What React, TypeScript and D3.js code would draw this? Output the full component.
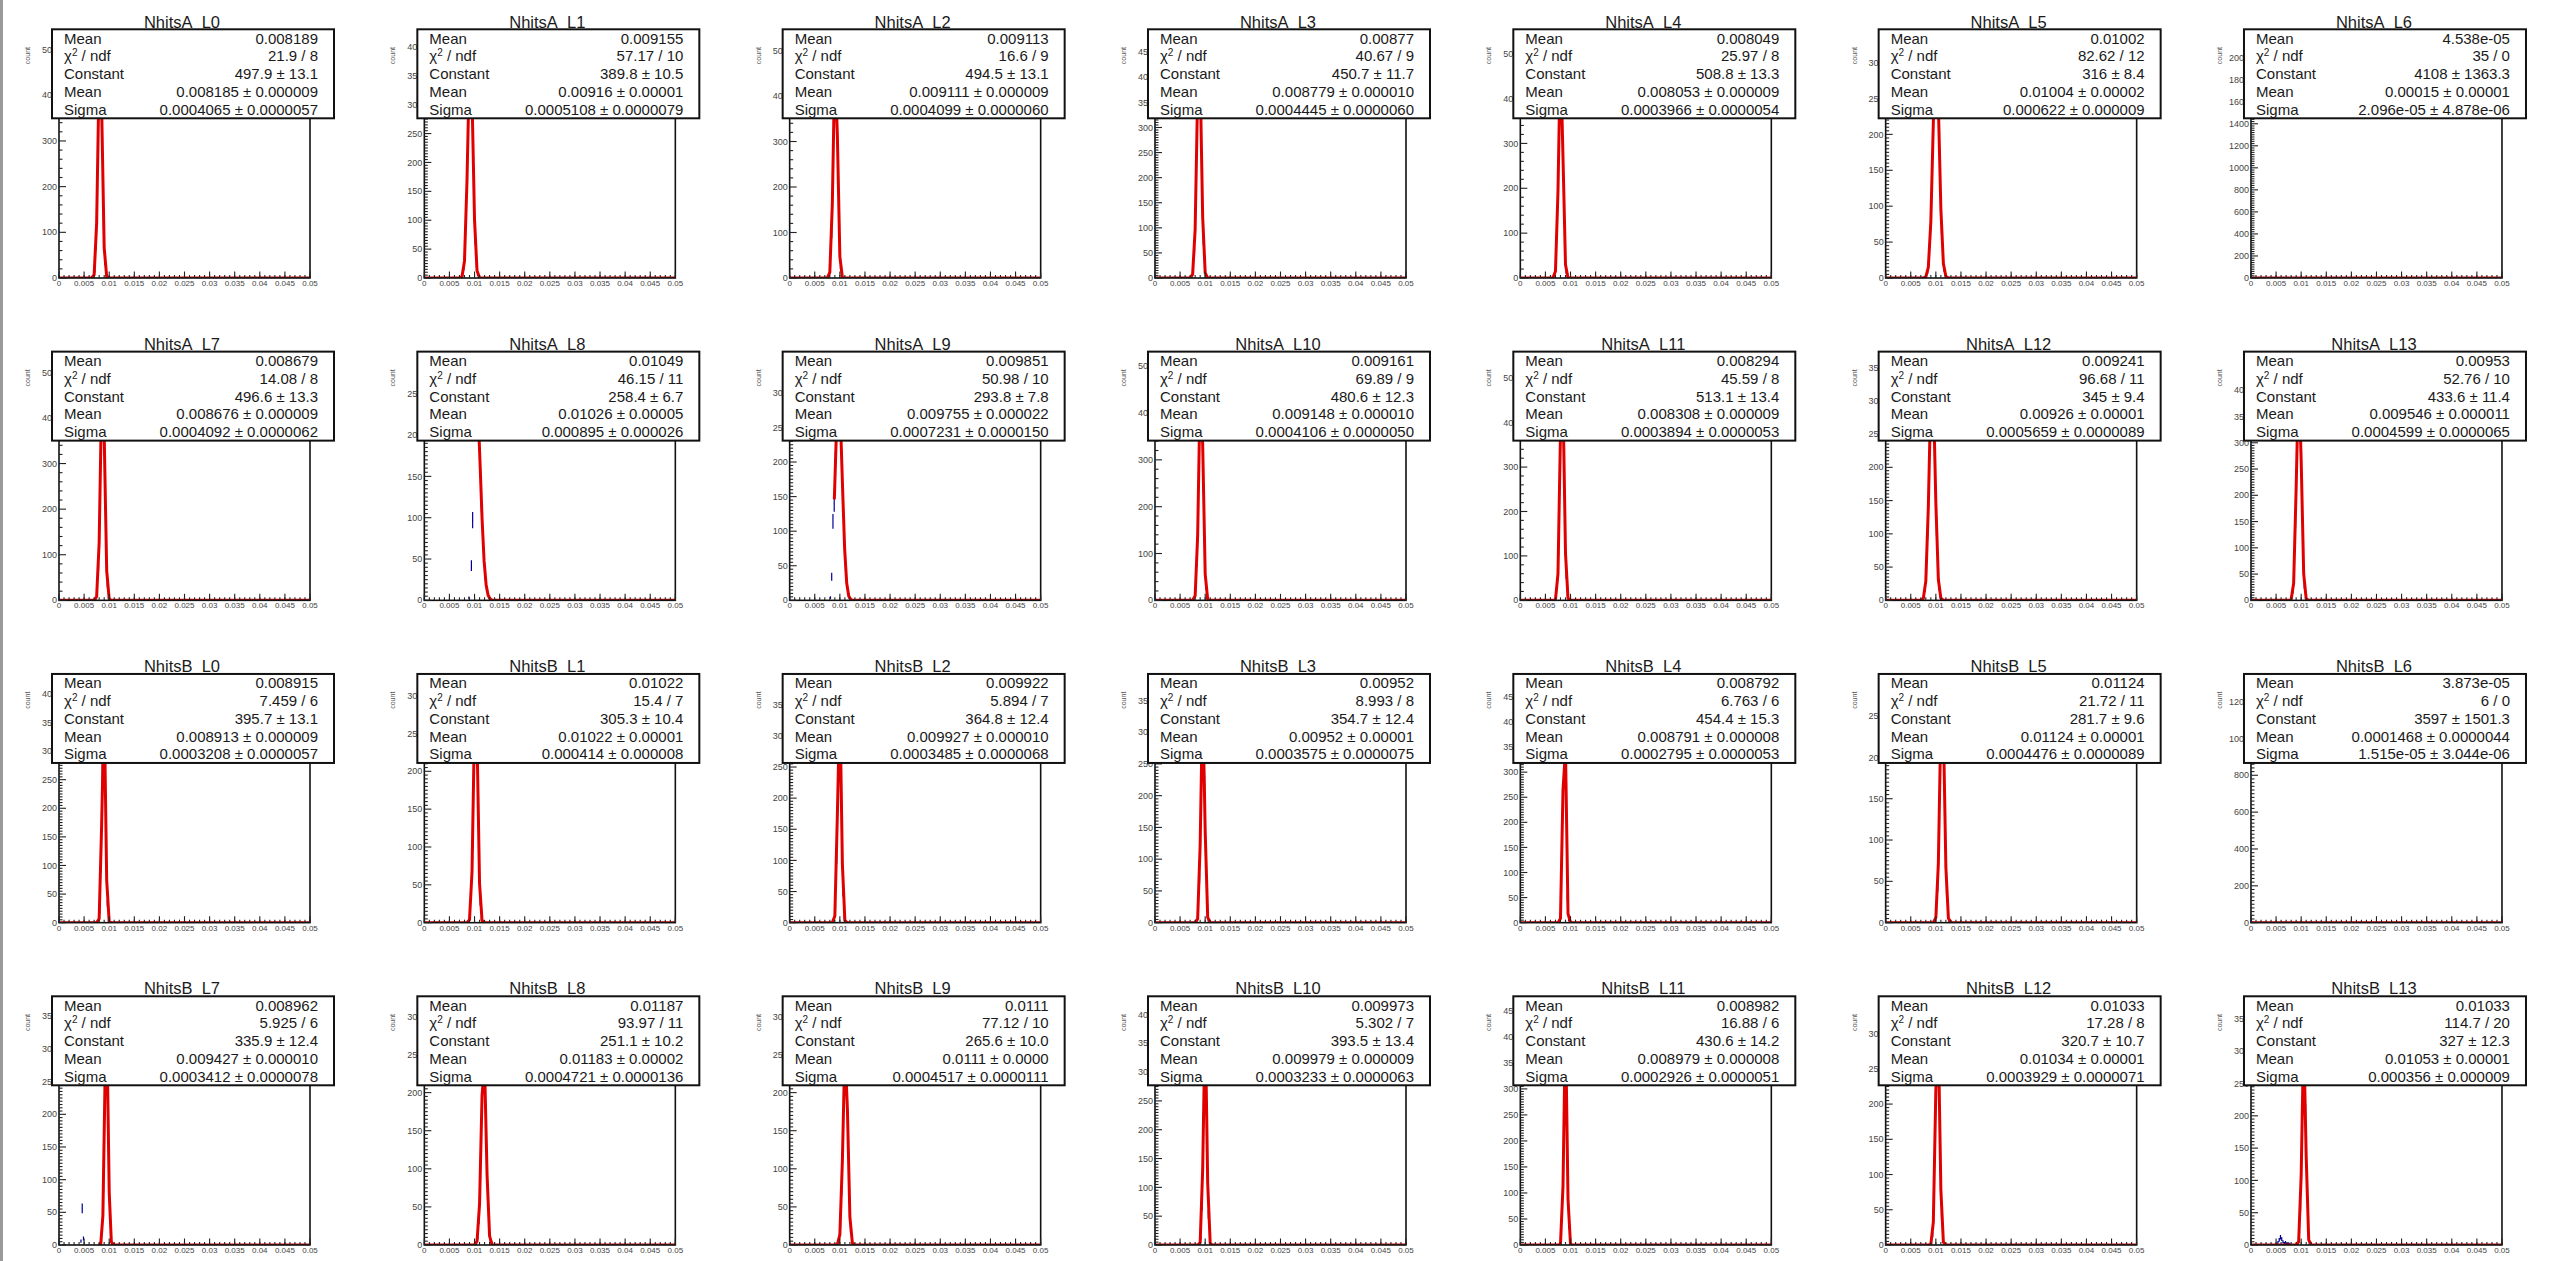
import React from "react";
import * as d3 from "d3";

// ---------------- DATA ----------------
const panelNames = [
  "NhitsA_L0", "NhitsA_L1", "NhitsA_L2", "NhitsA_L3", "NhitsA_L4", "NhitsA_L5", "NhitsA_L6",
  "NhitsA_L7", "NhitsA_L8", "NhitsA_L9", "NhitsA_L10", "NhitsA_L11", "NhitsA_L12", "NhitsA_L13",
  "NhitsB_L0", "NhitsB_L1", "NhitsB_L2", "NhitsB_L3", "NhitsB_L4", "NhitsB_L5", "NhitsB_L6",
  "NhitsB_L7", "NhitsB_L8", "NhitsB_L9", "NhitsB_L10", "NhitsB_L11", "NhitsB_L12", "NhitsB_L13",
];

const statMean = [
  "0.008189", "0.009155", "0.009113", "0.00877", "0.008049", "0.01002", "4.538e-05",
  "0.008679", "0.01049", "0.009851", "0.009161", "0.008294", "0.009241", "0.00953",
  "0.008915", "0.01022", "0.009922", "0.00952", "0.008792", "0.01124", "3.873e-05",
  "0.008962", "0.01187", "0.0111", "0.009973", "0.008982", "0.01033", "0.01033",
];
const statChi2 = [
  "21.9 / 8", "57.17 / 10", "16.6 / 9", "40.67 / 9", "25.97 / 8", "82.62 / 12", "35 / 0",
  "14.08 / 8", "46.15 / 11", "50.98 / 10", "69.89 / 9", "45.59 / 8", "96.68 / 11", "52.76 / 10",
  "7.459 / 6", "15.4 / 7", "5.894 / 7", "8.993 / 8", "6.763 / 6", "21.72 / 11", "6 / 0",
  "5.925 / 6", "93.97 / 11", "77.12 / 10", "5.302 / 7", "16.88 / 6", "17.28 / 8", "114.7 / 20",
];
const statConst = [
  "497.9 ± 13.1", "389.8 ± 10.5", "494.5 ± 13.1", "450.7 ± 11.7", "508.8 ± 13.3", "316 ± 8.4", "4108 ± 1363.3",
  "496.6 ± 13.3", "258.4 ± 6.7", "293.8 ± 7.8", "480.6 ± 12.3", "513.1 ± 13.4", "345 ± 9.4", "433.6 ± 11.4",
  "395.7 ± 13.1", "305.3 ± 10.4", "364.8 ± 12.4", "354.7 ± 12.4", "454.4 ± 15.3", "281.7 ± 9.6", "3597 ± 1501.3",
  "335.9 ± 12.4", "251.1 ± 10.2", "265.6 ± 10.0", "393.5 ± 13.4", "430.6 ± 14.2", "320.7 ± 10.7", "327 ± 12.3",
];
const statFitMean = [
  "0.008185 ± 0.000009", "0.00916 ± 0.00001", "0.009111 ± 0.000009", "0.008779 ± 0.000010", "0.008053 ± 0.000009", "0.01004 ± 0.00002", "0.00015 ± 0.00001",
  "0.008676 ± 0.000009", "0.01026 ± 0.00005", "0.009755 ± 0.000022", "0.009148 ± 0.000010", "0.008308 ± 0.000009", "0.00926 ± 0.00001", "0.009546 ± 0.000011",
  "0.008913 ± 0.000009", "0.01022 ± 0.00001", "0.009927 ± 0.000010", "0.00952 ± 0.00001", "0.008791 ± 0.000008", "0.01124 ± 0.00001", "0.0001468 ± 0.0000044",
  "0.009427 ± 0.000010", "0.01183 ± 0.00002", "0.0111 ± 0.0000", "0.009979 ± 0.000009", "0.008979 ± 0.000008", "0.01034 ± 0.00001", "0.01053 ± 0.00001",
];
const statSigma = [
  "0.0004065 ± 0.0000057", "0.0005108 ± 0.0000079", "0.0004099 ± 0.0000060", "0.0004445 ± 0.0000060", "0.0003966 ± 0.0000054", "0.000622 ± 0.000009", "2.096e-05 ± 4.878e-06",
  "0.0004092 ± 0.0000062", "0.000895 ± 0.000026", "0.0007231 ± 0.0000150", "0.0004106 ± 0.0000050", "0.0003894 ± 0.0000053", "0.0005659 ± 0.0000089", "0.0004599 ± 0.0000065",
  "0.0003208 ± 0.0000057", "0.000414 ± 0.000008", "0.0003485 ± 0.0000068", "0.0003575 ± 0.0000075", "0.0002795 ± 0.0000053", "0.0004476 ± 0.0000089", "1.515e-05 ± 3.044e-06",
  "0.0003412 ± 0.0000078", "0.0004721 ± 0.0000136", "0.0004517 ± 0.0000111", "0.0003233 ± 0.0000063", "0.0002926 ± 0.0000051", "0.0003929 ± 0.0000071", "0.000356 ± 0.000009",
];

// Gaussian fit parameters (from the stat boxes)
const fitConst = [
  497.9, 389.8, 494.5, 450.7, 508.8, 316, 4108,
  496.6, 258.4, 293.8, 480.6, 513.1, 345, 433.6,
  395.7, 305.3, 364.8, 354.7, 454.4, 281.7, 3597,
  335.9, 251.1, 265.6, 393.5, 430.6, 320.7, 327,
];
const fitMean = [
  0.008185, 0.00916, 0.009111, 0.008779, 0.008053, 0.01004, 0.00015,
  0.008676, 0.01026, 0.009755, 0.009148, 0.008308, 0.00926, 0.009546,
  0.008913, 0.01022, 0.009927, 0.00952, 0.008791, 0.01124, 0.0001468,
  0.009427, 0.01183, 0.0111, 0.009979, 0.008979, 0.01034, 0.01053,
];
const fitSigma = [
  0.0004065, 0.0005108, 0.0004099, 0.0004445, 0.0003966, 0.000622, 2.096e-5,
  0.0004092, 0.000895, 0.0007231, 0.0004106, 0.0003894, 0.0005659, 0.0004599,
  0.0003208, 0.000414, 0.0003485, 0.0003575, 0.0002795, 0.0004476, 1.515e-5,
  0.0003412, 0.0004721, 0.0004517, 0.0003233, 0.0002926, 0.0003929, 0.000356,
];
// lower end of the fit range (upper end is the axis end, 0.05)
const fitLo = [
  0, 0, 0, 0, 0, 0, 0,
  0, 0.0099, 0.0089, 0, 0, 0, 0,
  0, 0, 0, 0, 0, 0, 0,
  0.0079, 0, 0, 0, 0, 0, 0,
];

// histogram contents (bin width 0.00025), first listed bin lower edge in histStart
const BIN_W = 0.00025;
const histStart = [
  0.00675, 0.0075, 0.0075, 0.00725, 0.0065, 0.008, 0,
  0.00725, 0.00875, 0.00775, 0.00775, 0.00675, 0.0075, 0.00775,
  0.00775, 0.00875, 0.00875, 0.00825, 0.00775, 0.00975, 0,
  0.00825, 0.01025, 0.0095, 0.00875, 0.008, 0.009, 0.00925,
];
const histBins: number[][] = [
  [3, 16, 69, 192, 373, 492, 446, 278, 118, 34, 7, 1],
  [4, 17, 50, 119, 225, 334, 389, 357, 258, 146, 65, 23, 6, 1],
  [1, 5, 28, 98, 244, 418, 494, 403, 226, 88, 23, 4, 1],
  [3, 16, 57, 153, 298, 424, 448, 333, 184, 74, 22, 5, 1],
  [1, 6, 33, 119, 284, 460, 501, 366, 181, 60, 13, 2],
  [3, 9, 24, 55, 107, 178, 252, 305, 313, 273, 203, 129, 70, 31, 12, 4, 1],
  [2040, 3, 1],
  [3, 18, 73, 200, 378, 493, 440, 271, 115, 34, 7, 1],
  [3, 0, 42, 97, 215, 236, 272, 246, 204, 161, 118, 80, 51, 30, 16, 8, 4, 2],
  [0, 4, 34, 114, 140, 201, 256, 289, 325, 258, 203, 143, 88, 49, 24, 10, 4],
  [4, 22, 82, 214, 386, 480, 413, 245, 100, 28, 5, 1],
  [1, 5, 29, 109, 277, 459, 506, 369, 177, 56, 12, 2],
  [5, 17, 46, 102, 184, 274, 335, 338, 281, 190, 107, 50, 19, 6, 1],
  [1, 4, 17, 59, 150, 284, 405, 428, 335, 196, 86, 27, 7, 1],
  [2, 20, 97, 264, 393, 318, 140, 34, 4],
  [2, 9, 38, 108, 216, 297, 285, 189, 88, 28, 6, 1],
  [4, 26, 105, 250, 361, 310, 161, 49, 9, 1],
  [2, 16, 70, 194, 326, 354, 217, 85, 20, 3],
  [2, 27, 150, 382, 448, 224, 51, 5],
  [3, 13, 44, 110, 203, 272, 269, 195, 103, 40, 12, 2],
  [1220, 3, 1],
  [3, 21, 90, 226, 344, 284, 142, 41, 7, 1],
  [2, 10, 33, 83, 157, 229, 295, 206, 127, 61, 22, 6, 1],
  [1, 7, 26, 74, 153, 234, 295, 220, 135, 62, 20, 5, 1],
  [1, 12, 68, 215, 390, 356, 185, 53, 8, 1],
  [6, 52, 207, 432, 380, 173, 38, 4],
  [3, 15, 61, 160, 276, 319, 246, 127, 44, 10, 2],
  [2, 13, 60, 171, 297, 348, 204, 81, 19, 3],
];
// low-side outlier bins (visible dark-blue points)
const extraStart = [
  0, 0, 0, 0, 0, 0, 0,
  0, 0, 0, 0, 0, 0, 0,
  0, 0, 0, 0, 0, 0, 0,
  0.00425, 0, 0, 0, 0, 0, 0.005,
];
const extraBins: number[][] = [
  [], [], [], [], [], [], [],
  [], [], [], [], [], [], [],
  [], [], [], [], [], [], [],
  [6, 56, 10], [], [], [], [], [], [2, 4, 8, 12, 9, 5, 3, 4, 2, 3, 2, 1],
];

const yStep = [
  100, 50, 100, 50, 100, 50, 200,
  100, 50, 50, 100, 100, 50, 50,
  50, 50, 50, 50, 50, 50, 200,
  50, 50, 50, 50, 50, 50, 50,
];

const xTicks = [0, 0.005, 0.01, 0.015, 0.02, 0.025, 0.03, 0.035, 0.04, 0.045, 0.05];
const xTickLabels = ["0", "0.005", "0.01", "0.015", "0.02", "0.025", "0.03", "0.035", "0.04", "0.045", "0.05"];
const yTitle = "count";

// ---------------- LAYOUT ----------------
const W = 2560;
const H = 1261;
const COL_W = 365.33;
const ROW_H = 322.33;
const FR = { left: 59, right: 310, top: 42, bottom: 278 };
const FONT = "'Liberation Sans', Arial, Helvetica, sans-serif";

function Panel({ i }: { i: number }) {
  const c = i % 7;
  const r = Math.floor(i / 7);
  const ox = c * COL_W;
  const oy = r * ROW_H;

  const bins = histBins[i].map((v, k) => ({ lo: histStart[i] + k * BIN_W, v }));
  const extras = extraBins[i].map((v, k) => ({ lo: extraStart[i] + k * BIN_W, v }));
  const all = bins.concat(extras).filter((b) => b.v > 0);
  const ymax = 1.05 * (d3.max(all, (b) => b.v) || 1);

  const x = d3.scaleLinear().domain([0, 0.05]).range([ox + FR.left, ox + FR.right]);
  const y = d3.scaleLinear().domain([0, ymax]).range([oy + FR.bottom, oy + FR.top]);

  // error bars
  let ebPath = "";
  for (const b of all) {
    const xc = x(b.lo + BIN_W / 2);
    const e = Math.sqrt(b.v);
    ebPath += `M${x(b.lo)},${y(b.v)}H${x(b.lo + BIN_W)}`;
    ebPath += `M${xc},${y(Math.max(0, b.v - e))}V${y(b.v + e)}`;
  }

  // fit function sampled like TF1 (npx = 100) over its range
  const lo = fitLo[i];
  const xs = d3.range(0, 101).map((k) => lo + (k * (0.05 - lo)) / 100);
  const fitLine = d3
    .line<number>()
    .x((v) => x(v))
    .y((v) => y(fitConst[i] * Math.exp(-0.5 * Math.pow((v - fitMean[i]) / fitSigma[i], 2))))(xs);

  const step = yStep[i];
  const minor = step === 50 ? 5 : 20;
  const yMajor = d3.range(0, ymax + 1e-9, step);
  const yMinor = d3.range(0, ymax + 1e-9, minor).filter((v) => Math.abs(v / step - Math.round(v / step)) > 1e-6);
  const xMinor = d3.range(0, 0.0500001, 0.001);

  const clipId = `clip${i}`;
  const bx = ox + 52;
  const by = oy + 29.3;
  const bw = 282;
  const bh = 89;
  const rowH = bh / 5;
  const labels = ["Mean", "chi", "Constant", "Mean", "Sigma"];
  const values = [statMean[i], statChi2[i], statConst[i], statFitMean[i], statSigma[i]];

  return (
    <g>
      <clipPath id={clipId}>
        <rect x={ox + FR.left} y={oy + FR.top} width={FR.right - FR.left} height={FR.bottom - FR.top} />
      </clipPath>
      <g clipPath={`url(#${clipId})`}>
        <path d={ebPath} stroke="#000099" strokeWidth={1.2} fill="none" />
        <path d={fitLine || ""} stroke="#e00000" strokeWidth={3} fill="none" strokeLinejoin="round" />
      </g>
      <rect
        x={ox + FR.left}
        y={oy + FR.top}
        width={FR.right - FR.left}
        height={FR.bottom - FR.top}
        fill="none"
        stroke="#111"
        strokeWidth={1.6}
      />
      <g stroke="#222" strokeWidth={1.1}>
        {xMinor.map((v, k) => (
          <line key={`xm${k}`} x1={x(v)} x2={x(v)} y1={oy + FR.bottom} y2={oy + FR.bottom - 3} />
        ))}
        {xTicks.map((v, k) => (
          <line key={`xM${k}`} x1={x(v)} x2={x(v)} y1={oy + FR.bottom} y2={oy + FR.bottom - 6.5} />
        ))}
        {yMinor.map((v, k) => (
          <line key={`ym${k}`} x1={ox + FR.left} x2={ox + FR.left + 3.5} y1={y(v)} y2={y(v)} />
        ))}
        {yMajor.map((v, k) => (
          <line key={`yM${k}`} x1={ox + FR.left} x2={ox + FR.left + 7} y1={y(v)} y2={y(v)} />
        ))}
      </g>
      <g fontFamily={FONT} fontSize={8} fill="#444">
        {xTicks.map((v, k) => (
          <text key={`xl${k}`} x={x(v)} y={oy + FR.bottom + 8} textAnchor="middle">
            {xTickLabels[k]}
          </text>
        ))}
        {yMajor.map((v, k) => (
          <text key={`yl${k}`} x={ox + FR.left - 2} y={y(v)} dy="0.35em" textAnchor="end" fontSize={9}>
            {d3.format("d")(v)}
          </text>
        ))}
        <text
          transform={`translate(${ox + 30},${oy + 47}) rotate(-90)`}
          textAnchor="end"
          fontSize={7}
          fill="#555"
        >
          {yTitle}
        </text>
      </g>
      <text x={ox + 182} y={oy + 27.5} textAnchor="middle" fontFamily={FONT} fontSize={16.5} fill="#1a1a1a">
        {panelNames[i]}
      </text>
      <rect x={bx} y={by} width={bw} height={bh} fill="#fff" stroke="#111" strokeWidth={2} />
      <g fontFamily={FONT} fontSize={15} fill="#1a1a1a">
        {labels.map((l, k) => (
          <text key={`sl${k}`} x={bx + 12} y={by + rowH * (k + 0.5) + 5.4}>
            {l === "chi" ? (
              <>
                <tspan>χ</tspan>
                <tspan dy={-5} fontSize={10}>2</tspan>
                <tspan dy={5}> / ndf</tspan>
              </>
            ) : (
              l
            )}
          </text>
        ))}
        {values.map((v, k) => (
          <text key={`sv${k}`} x={bx + bw - 16} y={by + rowH * (k + 0.5) + 5.4} textAnchor="end">
            {v}
          </text>
        ))}
      </g>
    </g>
  );
}

export default function App() {
  return (
    <svg
      width={W}
      height={H}
      viewBox={`0 0 ${W} ${H}`}
      style={{ position: "absolute", left: 0, top: 0, background: "#fff" }}
    >
      <rect x={0} y={0} width={W} height={H} fill="#fff" />
      {panelNames.map((_, i) => (
        <Panel key={i} i={i} />
      ))}
      <line x1={1.5} x2={1.5} y1={0} y2={H} stroke="#9a9a9a" strokeWidth={3} />
    </svg>
  );
}
